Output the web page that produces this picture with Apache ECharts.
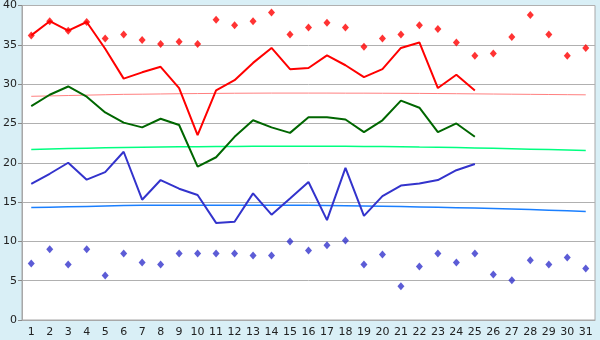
<!DOCTYPE html>
<html><head><meta charset="utf-8">
<script src="https://cdn.jsdelivr.net/npm/echarts@6/dist/echarts.min.js"></script>
<style>html,body{margin:0;padding:0;background:#d9eff6}#c{width:600px;height:340px}</style>
</head><body><div id="c"></div>
<script>
const days = ['1','2','3','4','5','6','7','8','9','10','11','12','13','14','15','16','17','18','19','20','21','22','23','24','25','26','27','28','29','30','31'];
const yTicks = [0,5,10,15,20,25,30,35,40];
const redLine = [36.2,38.0,36.8,37.9,34.5,30.7,31.5,32.2,29.5,23.5,29.2,30.5,32.7,34.6,31.9,32.05,33.65,32.4,30.9,31.9,34.6,35.3,29.5,31.2,29.2];
const greenLine = [27.2,28.65,29.7,28.4,26.4,25.1,24.5,25.6,24.8,19.5,20.7,23.3,25.4,24.5,23.8,25.8,25.8,25.5,23.9,25.4,27.9,27.0,23.9,25.0,23.3];
const blueLine = [17.3,18.6,20.0,17.85,18.8,21.4,15.3,17.8,16.7,15.9,12.35,12.5,16.1,13.4,15.45,17.55,12.7,19.35,13.25,15.75,17.1,17.35,17.8,19.05,19.85];
const redDots = [36.2,38.0,36.8,37.9,35.8,36.3,35.6,35.1,35.4,35.1,38.2,37.5,38.0,39.1,36.3,37.2,37.8,37.2,34.75,35.8,36.3,37.5,37.0,35.3,33.6,33.9,36.0,38.8,36.3,33.6,34.6];
const blueDots = [7.2,9.0,7.07,9.0,5.67,8.47,7.3,7.07,8.47,8.47,8.47,8.47,8.2,8.2,10.0,8.85,9.5,10.1,7.07,8.34,4.28,6.8,8.47,7.3,8.47,5.8,5.04,7.6,7.07,7.96,6.56];
const redTrend = [28.45,28.5,28.55,28.6,28.65,28.7,28.72,28.75,28.78,28.8,28.82,28.84,28.85,28.86,28.86,28.86,28.86,28.85,28.85,28.84,28.83,28.82,28.8,28.78,28.76,28.74,28.72,28.7,28.68,28.66,28.64];
const greenTrend = [21.7,21.75,21.8,21.85,21.9,21.95,21.98,22.0,22.03,22.05,22.07,22.08,22.09,22.1,22.1,22.1,22.1,22.1,22.08,22.06,22.04,22.0,21.97,21.93,21.88,21.83,21.78,21.73,21.68,21.62,21.55];
const blueTrend = [14.3,14.35,14.4,14.45,14.5,14.55,14.58,14.6,14.6,14.6,14.6,14.6,14.6,14.6,14.6,14.58,14.56,14.53,14.5,14.46,14.42,14.38,14.33,14.28,14.23,14.17,14.11,14.04,13.97,13.89,13.8];

const chart = echarts.init(document.getElementById('c'), null, {renderer:'canvas'});
const lineS = (data, color, w, z) => ({type:'line', data, symbol:'none', lineStyle:{color, width:w}, itemStyle:{color}, z, animation:false});
const dotS = (data, color) => ({type:'scatter', data, symbol:'diamond', symbolSize:[7,8], itemStyle:{color}, z:5, animation:false});
chart.setOption({
  backgroundColor:'#d9eff6',
  animation:false,
  grid:{left:20, right:5, top:5, bottom:20, show:true, backgroundColor:'#ffffff', borderColor:'#a8a8a8', borderWidth:1},
  xAxis:{type:'category', data:days, boundaryGap:true,
    axisLine:{lineStyle:{color:'#a8a8a8'}},
    axisTick:{alignWithLabel:true, length:5, lineStyle:{color:'#888'}},
    axisLabel:{color:'#222', fontFamily:'DejaVu Sans', fontSize:11, margin:7, interval:0}},
  yAxis:{type:'value', min:yTicks[0], max:yTicks[yTicks.length-1], interval:5,
    axisLine:{show:true, lineStyle:{color:'#a8a8a8'}},
    axisTick:{show:true, length:4, lineStyle:{color:'#888'}},
    axisLabel:{color:'#222', fontFamily:'DejaVu Sans', fontSize:11, margin:5},
    splitLine:{lineStyle:{color:'#b0b0b0'}}},
  series:[
    lineS(redTrend,'#ff8080',1,1),
    lineS(greenTrend,'#00ff80',1.5,1),
    lineS(blueTrend,'#1a7fff',1.5,1),
    lineS(redLine,'#ff0000',2,3),
    lineS(greenLine,'#006600',2,3),
    lineS(blueLine,'#3333cc',2,3),
    dotS(redDots,'#ff0000'),
    dotS(blueDots,'#3333cc')
  ]
});
</script></body></html>
